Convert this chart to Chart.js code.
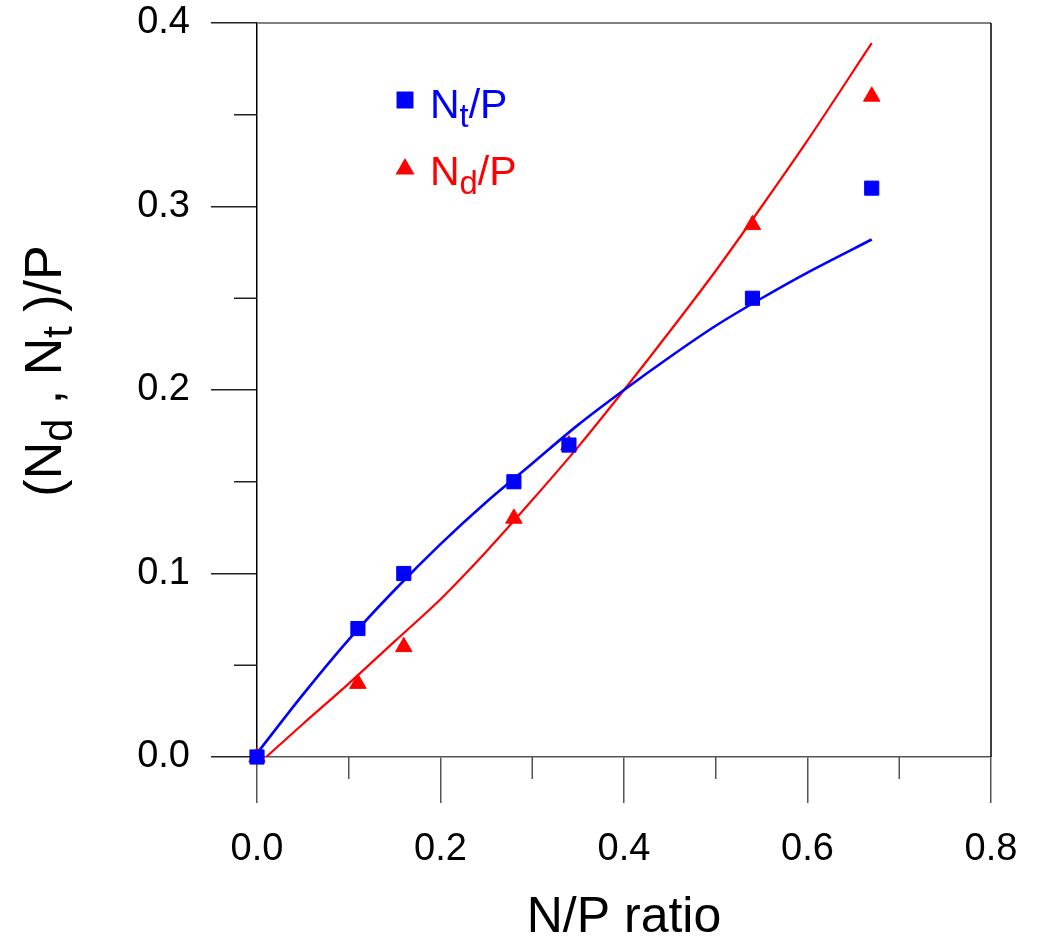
<!DOCTYPE html>
<html lang="en">
<head>
<meta charset="UTF-8">
<title>N/P ratio</title>
<script src="https://cdn.jsdelivr.net/npm/chart.js"></script>
<style>
  body { margin: 0; background: #fff; }
  canvas { display: block; }
</style>
</head>
<body>
<canvas id="chart" width="1039" height="942"></canvas>
<script>
// measured points
const npRatio = [0, 0.11, 0.16, 0.28, 0.34, 0.54, 0.67];
const ntP = [0, 0.07, 0.10, 0.15, 0.17, 0.25, 0.31];
const ndP = [0, 0.04, 0.06, 0.13, 0.17, 0.29, 0.36];

// fitted curves
const ntFitX = [0, 0.05, 0.10, 0.15, 0.20, 0.25, 0.30, 0.35, 0.40, 0.45, 0.50, 0.55, 0.60, 0.67];
const ntFit = [0.002, 0.034, 0.064, 0.091, 0.116, 0.139, 0.160, 0.181, 0.200, 0.218, 0.235, 0.250, 0.264, 0.282];
const ndFitX = [0.01, 0.05, 0.10, 0.15, 0.20, 0.25, 0.30, 0.35, 0.40, 0.45, 0.50, 0.55, 0.60, 0.67];
const ndFit = [0.000, 0.018, 0.040, 0.063, 0.086, 0.112, 0.140, 0.169, 0.200, 0.232, 0.265, 0.300, 0.336, 0.389];

// ticks ('' = minor tick)
const xTicks = [0, 0.1, 0.2, 0.3, 0.4, 0.5, 0.6, 0.7, 0.8];
const xTickLabels = ['0.0', '', '0.2', '', '0.4', '', '0.6', '', '0.8'];
const yTicks = [0, 0.05, 0.1, 0.15, 0.2, 0.25, 0.3, 0.35, 0.4];
const yTickLabels = ['0.0', '', '0.1', '', '0.2', '', '0.3', '', '0.4'];

const BLUE = '#0000ff';
const RED = '#ff0000';
const FONT = '"Liberation Sans", Arial, sans-serif';

Chart.defaults.font.family = FONT;
Chart.defaults.color = '#000';

const pts = (xs, ys) => xs.map((x, i) => ({ x: x, y: ys[i] }));

// text with subscripts: parts = [[text, isSub], ...]
function richText(ctx, parts, x, y, size, draw) {
    let cx = x;
    parts.forEach(([t, sub]) => {
        const fs = sub ? size * 0.8 : size;
        ctx.font = fs + 'px ' + FONT;
        if (draw) ctx.fillText(t, cx, sub ? y + size * 0.22 : y);
        cx += ctx.measureText(t).width;
    });
    return cx - x;
}

const extras = {
    id: 'extras',
    beforeDatasetsDraw(chart) {
        const { ctx, chartArea: a } = chart;
        ctx.save();
        // top and right frame
        ctx.lineWidth = 2;
        ctx.strokeStyle = '#808080';
        ctx.beginPath();
        ctx.moveTo(a.left, a.top);
        ctx.lineTo(a.right, a.top);
        ctx.stroke();
        ctx.lineWidth = 1.5;
        ctx.strokeStyle = '#000';
        ctx.beginPath();
        ctx.moveTo(a.right, a.top);
        ctx.lineTo(a.right, a.bottom);
        ctx.stroke();
        // minor ticks
        const xs = chart.scales.x, ys = chart.scales.y;
        ctx.lineWidth = 1.5;
        ctx.strokeStyle = '#555';
        xTicks.forEach((v, i) => {
            if (xTickLabels[i]) return;
            const px = xs.getPixelForValue(v);
            ctx.beginPath();
            ctx.moveTo(px, a.bottom);
            ctx.lineTo(px, a.bottom + 22);
            ctx.stroke();
        });
        ctx.strokeStyle = '#222';
        yTicks.forEach((v, i) => {
            if (yTickLabels[i]) return;
            const py = ys.getPixelForValue(v);
            ctx.beginPath();
            ctx.moveTo(a.left, py);
            ctx.lineTo(a.left - 23, py);
            ctx.stroke();
        });
        ctx.restore();
    },
    afterDraw(chart) {
        const { ctx, chartArea: a } = chart;
        ctx.save();
        ctx.textBaseline = 'alphabetic';
        ctx.textAlign = 'left';

        // legend
        const lx = a.left + 148;
        ctx.fillStyle = BLUE;
        ctx.strokeStyle = BLUE;
        Chart.helpers.drawPoint(ctx, { pointStyle: 'rect', radius: 12, borderWidth: 0, rotation: 0 }, lx, a.top + 77);
        richText(ctx, [['N', false], ['t', true], ['/P', false]], a.left + 173, a.top + 95, 41, true);
        ctx.fillStyle = RED;
        ctx.strokeStyle = RED;
        Chart.helpers.drawPoint(ctx, { pointStyle: 'triangle', radius: 11, borderWidth: 0, rotation: 0 }, lx, a.top + 146);
        richText(ctx, [['N', false], ['d', true], ['/P', false]], a.left + 173, a.top + 162, 41, true);

        // y axis title
        const parts = [['(N', false], ['d', true], [' , N', false], ['t', true], [' )/P', false]];
        const w = richText(ctx, parts, 0, 0, 52, false);
        ctx.fillStyle = '#000';
        ctx.translate(61, (a.top + a.bottom) / 2 - 19 + w / 2);
        ctx.rotate(-Math.PI / 2);
        richText(ctx, parts, 0, 0, 52, true);
        ctx.restore();
    }
};

new Chart(document.getElementById('chart'), {
    type: 'scatter',
    data: {
        datasets: [
            {
                label: 'Nt/P',
                data: pts(npRatio, ntP),
                pointStyle: 'rect',
                pointRadius: 10,
                backgroundColor: BLUE,
                borderColor: BLUE,
                borderWidth: 1,
                clip: false
            },
            {
                label: 'Nd/P',
                data: pts(npRatio, ndP),
                pointStyle: 'triangle',
                pointRadius: 9.5,
                backgroundColor: RED,
                borderColor: RED,
                borderWidth: 1,
                clip: false
            },
            {
                label: 'Nt/P fit',
                data: pts(ntFitX, ntFit),
                showLine: true,
                pointRadius: 0,
                borderColor: BLUE,
                borderWidth: 2.6,
                tension: 0.3
            },
            {
                label: 'Nd/P fit',
                data: pts(ndFitX, ndFit),
                showLine: true,
                pointRadius: 0,
                borderColor: RED,
                borderWidth: 2.2,
                tension: 0.3
            }
        ]
    },
    options: {
        responsive: false,
        devicePixelRatio: 1,
        animation: false,
        layout: { padding: { top: 23, right: 48, left: 0, bottom: 0 } },
        plugins: {
            legend: { display: false },
            tooltip: { enabled: false }
        },
        scales: {
            x: {
                type: 'linear',
                min: 0,
                max: 0.8,
                afterFit: s => { s.height = 185; s.paddingLeft = 0; s.paddingRight = 0; },
                afterBuildTicks: s => { s.ticks = xTicks.map(v => ({ value: v })); },
                ticks: {
                    autoSkip: false,
                    maxRotation: 0,
                    padding: 24,
                    font: { size: 38 },
                    callback: (v, i) => xTickLabels[i]
                },
                grid: {
                    drawOnChartArea: false,
                    tickLength: 46,
                    lineWidth: 1.5,
                    color: c => xTickLabels[c.index] ? '#555' : 'rgba(0,0,0,0)'
                },
                border: { color: '#555', width: 1.5 },
                title: {
                    display: true,
                    text: 'N/P ratio',
                    font: { size: 50, lineHeight: 0.95 },
                    padding: { top: 0, bottom: 0 }
                }
            },
            y: {
                type: 'linear',
                min: 0,
                max: 0.4,
                afterFit: s => { s.width = 257; s.paddingTop = 0; s.paddingBottom = 0; },
                afterBuildTicks: s => { s.ticks = yTicks.map(v => ({ value: v })); },
                ticks: {
                    autoSkip: false,
                    padding: 21,
                    font: { size: 38 },
                    callback: (v, i) => yTickLabels[i]
                },
                grid: {
                    drawOnChartArea: false,
                    tickLength: 46,
                    lineWidth: 1.5,
                    color: c => yTickLabels[c.index] ? '#222' : 'rgba(0,0,0,0)'
                },
                border: { color: '#000', width: 1.5 }
            }
        }
    },
    plugins: [extras]
});
</script>
</body>
</html>
